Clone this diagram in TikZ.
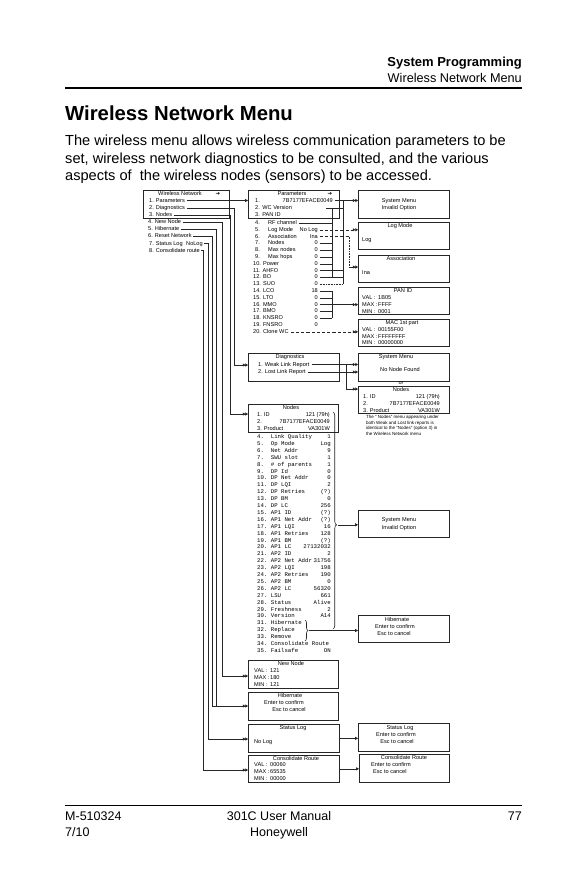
\documentclass[tikz,border=0pt]{standalone}
\usepackage{fontspec}
\setmainfont{Liberation Sans}
\setmonofont{Liberation Mono}
\newfontfamily\symf{DejaVu Sans}
\usetikzlibrary{arrows.meta,decorations.pathreplacing}
\newcommand{\mybox}[5]{\node[box, anchor=north west, minimum width=#4pt, minimum height=#5pt, inner sep=0] (#1) at (#2,#3) {};}
\newcommand{\lbl}[1]{\makebox[16pt][l]{#1}}
\begin{document}
\begin{tikzpicture}[x=1pt,y=-1pt,
  box/.style={draw=black!85, line width=0.7pt},
  conn/.style={draw=black!85, line width=0.6pt},
  dbl/.style={-{Triangle[length=2.6pt,width=3pt]Triangle[length=2.6pt,width=3pt]}},
  sgl/.style={-{Triangle[length=2.8pt,width=3pt]}},
  dsh/.style={dash pattern=on 3.2pt off 2pt},
  t/.style={inner sep=0, font=\fontsize{5.6}{6}\selectfont, text height=4.1pt, text depth=1.1pt},
  tm/.style={inner sep=0, font=\ttfamily\fontsize{5.7}{6}\selectfont, text height=4.1pt, text depth=1.1pt},
  tn/.style={inner sep=0, font=\fontsize{4.5}{5}\selectfont, anchor=west, text height=3.3pt, text depth=0.9pt},
  para/.style={anchor=base west, inner sep=0, font=\fontsize{14.6}{17}\selectfont},
  foot/.style={inner sep=0, font=\fontsize{12.5}{15}\selectfont},
]
\useasboundingbox (0,0) rectangle (577,892);
\fill[white] (0,0) rectangle (577,892);

% ---------- header ----------
\node[anchor=base east, inner sep=0, font=\bfseries\fontsize{13}{15}\selectfont] (hd1) at (522,66) {System Programming};
\node[anchor=base east, inner sep=0, font=\fontsize{12.7}{15}\selectfont] (hd2) at (522,82) {Wireless Network Menu};
\draw[line width=2pt] (65,88) -- (522,88);
\node[anchor=base west, inner sep=0, font=\bfseries\fontsize{20.3}{24}\selectfont] (ttl) at (65,120) {Wireless Network Menu};
\node[para] (pa1) at (65,145) {The wireless menu allows wireless communication parameters to be};
\node[para] (pa2) at (65,163) {set, wireless network diagnostics to be consulted, and the various};
\node[para] (pa3) at (65,180.5) {aspects of\ \ the wireless nodes (sensors) to be accessed.};

% ---------- footer ----------
\draw[line width=1pt] (65,805.5) -- (522,805.5);
\node[foot, anchor=base west] (f1) at (65,820) {M-510324};
\node[foot, anchor=base west] (f2) at (65,836) {7/10};
\node[foot, anchor=base] (f3) at (279,820) {301C User Manual};
\node[foot, anchor=base] (f4) at (279,836) {Honeywell};
\node[foot, anchor=base east] (f5) at (522,820) {77};

% ---------- boxes ----------
\mybox{wn}{143}{189.5}{86}{28}
\mybox{par}{248}{189.5}{91}{28}
\mybox{smA}{358}{189.5}{91}{28}
\mybox{logm}{358}{222}{91}{27}
\mybox{assoc}{358}{255}{91}{27}
\mybox{pan}{358}{287}{91}{27}
\mybox{mac}{358}{319}{91}{27}
\mybox{diag}{248}{353}{91}{28}
\mybox{smB}{358}{353}{91}{28}
\mybox{nds}{358}{386}{91}{27}
\mybox{ndb}{248}{404}{90}{28}
\mybox{smC}{358}{510}{91}{27}
\mybox{hibR}{358}{615}{91}{27}
\mybox{newn}{248}{660}{90}{28}
\mybox{hib}{248}{692}{90}{28}
\mybox{slog}{248}{724}{91}{28}
\mybox{slogR}{358}{723}{91}{28}
\mybox{cons}{248}{755}{91}{27}
\mybox{consR}{359}{754}{90}{28}

% ---------- Wireless Network menu ----------
\node[t] (wnt) at (180,194) {Wireless Network};
\node[inner sep=0, font=\symf\bfseries\fontsize{5.5}{6}\selectfont] (wna) at (218,194) {➔};
\node[t,anchor=west] (wn1) at (149,200.5) {1. Parameters};
\node[t,anchor=west] (wn2) at (149,207.8) {2. Diagnostics};
\node[t,anchor=west] (wn3) at (149,215) {3. Nodes};
\node[t,anchor=west] (wn4) at (148,222.2) {4. New Node};
\node[t,anchor=west] (wn5) at (148,229.3) {5. Hibernate};
\node[t,anchor=west] (wn6) at (148,236.4) {6. Reset Network};
\node[t,anchor=west] (wn7) at (149,243.5) {7. Status Log\hspace{3.5pt}NoLog};
\node[t,anchor=west] (wn8) at (149,250.6) {8. Consolidate route};

\coordinate (kD) at (234,365);
\coordinate (kN) at (230,414);
\coordinate (kNN) at (222,676);
\coordinate (kH) at (216,706);
\coordinate (kR) at (212,706);
\coordinate (kS) at (208,739);
\coordinate (kC) at (203,770);
\draw[conn,sgl] ([xshift=1.5pt]wn1.east) -- (par.west |- wn1);
\draw[conn,dbl] ([xshift=1.5pt]wn2.east) -| (kD) -- (diag.west |- kD);
\draw[conn,dbl] ([xshift=1.5pt]wn3.east) -| (kN) -- (ndb.west |- kN);
\draw[conn,dbl] ([xshift=1.5pt]wn4.east) -| (kNN) -- (newn.west |- kNN);
\draw[conn] ([xshift=1.5pt]wn5.east) -| (kH);
\draw[conn] ([xshift=1.5pt]wn6.east) -| (kR);
\draw[conn,dbl] (kR) -- (hib.west |- kR);
\draw[conn,dbl] ([xshift=1pt]wn7.east) -| (kS) -- (slog.west |- kS);
\draw[conn,dbl] ([xshift=1pt]wn8.east) -| (kC) -- (cons.west |- kC);

% ---------- Parameters ----------
\node[t] (part) at (292,194) {Parameters};
\node[inner sep=0, font=\symf\bfseries\fontsize{5.5}{6}\selectfont] (para) at (330,194) {➔};
\node[t,anchor=west] (p1) at (255,200.5) {1.};
\node[t,anchor=east] (pv1) at (333,200.5) {7B7177EFACE0049};
\node[t,anchor=west] (p2) at (255,207.8) {2.\hspace{2.5pt}WC Version};
\node[t,anchor=west] (p3) at (255,215) {3.\hspace{2.5pt}PAN ID};
\foreach \k/\lab/\val in {4/RF channel/, 5/Log Mode/No Log, 6/Association/Ina, 7/Nodes/0, 8/Max nodes/0, 9/Max hops/0}{
  \node[t,anchor=west] (p\k) at (255,{223+(\k-4)*6.8}) {\k.};
  \node[t,anchor=west] (pl\k) at (268,{223+(\k-4)*6.8}) {\lab};
  \node[t,anchor=east] (pv\k) at (318,{223+(\k-4)*6.8}) {\val};
}
\foreach \k/\lab/\val in {10/Power/0, 11/AHFO/0, 12/BO/0, 13/SUO/0, 14/LCO/18, 15/LTO/0, 16/MMO/0, 17/BMO/0, 18/KNSRO/0, 19/FNSRO/0, 20/Clone WC/}{
  \node[t,anchor=west] (pl\k) at (253,{223+(\k-4)*6.8}) {\k. \lab};
  \node[t,anchor=east] (pv\k) at (318,{223+(\k-4)*6.8}) {\val};
}
% connectors of parameters
\coordinate (cA1) at (343,200.5);
\coordinate (cA2) at (343,{223+9*6.8});
\coordinate (s2) at (326,207.8);
\coordinate (cB1) at (332,207.8);
\coordinate (cB2) at (332,{223+8*6.8});
\coordinate (cC1) at (332,{223+10*6.8});
\coordinate (cC2) at (332,{223+14*6.8});
\draw[conn,dbl] ([xshift=1.5pt]pv1.east) -- (smA.west |- pv1);
\draw[conn] (cA1) -- (cA2);
\draw[conn] (s2) -- (s2 -| cA1);
\draw[conn] (cB1) -- (cB2);
\draw[conn] ([xshift=1.5pt]pl4.east) -- (pl4 -| cB1);
\foreach \k in {7,8,9,10}{ \draw[conn] ([xshift=1.5pt]pv\k.east) -- (pv\k -| cB1); }
\foreach \k in {11,12}{ \draw[conn] ([xshift=1.5pt]pv\k.east) -- (pv\k -| cA1); }
\draw[conn,densely dotted] ([xshift=1.5pt]pv13.east) -- (pv13 -| cA1);
\draw[conn] (cC1) -- (cC2);
\foreach \k in {14,15,17,18}{ \draw[conn] ([xshift=1.5pt]pv\k.east) -- (pv\k -| cC1); }
\draw[conn,dbl] ([xshift=1.5pt]pv16.east) -- (pan.west |- pv16);
\draw[conn,dsh,dbl] ([xshift=1.5pt]pv5.east) -- (logm.west |- pv5);
\coordinate (kA1) at (349,{223+2*6.8});
\coordinate (kA2) at (349,267);
\draw[conn,dsh] ([xshift=1.5pt]pv6.east) -- (kA1);
\draw[conn,densely dotted] (kA1) -- (kA2);
\draw[conn,dbl] (kA2) -- (assoc.west |- kA2);
\draw[conn,dsh,dbl] ([xshift=2pt]pl20.east) -- (mac.west |- pl20);

% ---------- right column boxes ----------
\node[t] (smA1) at (399,200.5) {System Menu};
\node[t] (smA2) at (399,208) {Invalid Option};
\node[t] (lmt) at (400,226) {Log Mode};
\node[t,anchor=west] (lmv) at (362,240) {Log};
\node[t] (ast) at (401,259) {Association};
\node[t,anchor=west] (asv) at (362,272.5) {Ina};
\node[t] (pant) at (403,290.5) {PAN ID};
\node[t,anchor=west] (pan1) at (362,297.5) {\lbl{VAL :}1B05};
\node[t,anchor=west] (pan2) at (362,304.5) {\lbl{MAX :}FFFF};
\node[t,anchor=west] (pan3) at (362,311.5) {\lbl{MIN :}0001};
\node[t] (mact) at (402,322.5) {MAC 1st part};
\node[t,anchor=west] (mac1) at (362,329.5) {\lbl{VAL :}00155F00};
\node[t,anchor=west] (mac2) at (362,336.5) {\lbl{MAX :}FFFFFFFF};
\node[t,anchor=west] (mac3) at (362,343.2) {\lbl{MIN :}00000000};

% ---------- Diagnostics ----------
\node[t] (dgt) at (290,357) {Diagnostics};
\node[t,anchor=west] (dg1) at (258,364.5) {1. Weak Link Report};
\node[t,anchor=west] (dg2) at (258,372) {2. Lost Link Report};
\node[t] (smB1) at (396,357) {System Menu};
\node[t] (smB2) at (400,370) {No Node Found};
\node[t] (orr) at (401,383.3) {or};
\draw[conn,dbl] ([xshift=2pt]dg1.east) -- (smB.west |- dg1);
\draw[conn,dbl] ([xshift=2pt]dg2.east) -- (smB.west |- dg2);
\coordinate (kW) at (346,364.5);
\coordinate (kW2) at (346,389);
\draw[conn,dbl] (kW) -- (kW2) -- (nds.west |- kW2);
\node[t] (ndst) at (401,389.5) {Nodes};
\node[t,anchor=west] (nds1) at (363,396.5) {1. ID};
\node[t,anchor=east] (nds1v) at (440,396.5) {121 (79h)};
\node[t,anchor=west] (nds2) at (363,403.5) {2.};
\node[t,anchor=east] (nds2v) at (440,403.5) {7B7177EFACE0049};
\node[t,anchor=west] (nds3) at (363,410.5) {3. Product};
\node[t,anchor=east] (nds3v) at (440,410.5) {VA301W};
\node[tn] (nt1) at (366,417.3) {The `` Nodes'' menu appearing under};
\node[tn] (nt2) at (366,423) {both Weak and Lost link reports is};
\node[tn] (nt3) at (366,428.7) {identical to the ``Nodes'' (option 3) in};
\node[tn] (nt4) at (366,434.4) {the Wireless Network menu};

% ---------- Nodes big ----------
\node[t] (ndbt) at (291,407.5) {Nodes};
\node[t,anchor=west] (nb1) at (257,414.5) {1. ID};
\node[t,anchor=east] (nb1v) at (330,414.5) {121 (79h)};
\node[t,anchor=west] (nb2) at (257,421.5) {2.};
\node[t,anchor=east] (nb2v) at (330,421.5) {7B7177EFACE0049};
\node[t,anchor=west] (nb3) at (257,428.5) {3. Product};
\node[t,anchor=east] (nb3v) at (330,428.5) {VA301W};
\foreach \k/\lab/\val in {4/Link Quality/1, 5/Op Mode/Log, 6/Net Addr/9, 7/SWU slot/1, 8/\# of parents/1,
  9/DP Id/0, 10/DP Net Addr/0, 11/DP LQI/2, 12/DP Retries/(?), 13/DP BM/0, 14/DP LC/256,
  15/AP1 ID/(?), 16/AP1 Net Addr/(?), 17/AP1 LQI/16, 18/AP1 Retries/128, 19/AP1 BM/(?),
  20/AP1 LC/27132032, 21/AP2 ID/2, 22/AP2 Net Addr/31756, 23/AP2 LQI/198, 24/AP2 Retries/190,
  25/AP2 BM/0, 26/AP2 LC/56320, 27/LSU/661, 28/Status/Alive, 29/Freshness/2, 30/Version/A14,
  31/Hibernate/, 32/Replace/, 33/Remove/, 34/Consolidate Route/, 35/Failsafe/ON}{
  \node[tm,anchor=west] (nl\k) at (257,{437+(\k-4)*6.9}) {\makebox[13.7pt][l]{\k.}\lab};
  \node[tm,anchor=east] (nv\k) at (331,{437+(\k-4)*6.9}) {\val};
}
\draw[conn, decorate, decoration={brace, amplitude=3.5pt, aspect=0.52}] (333,412) -- (333,629);
\coordinate (bt) at (337.5,524.8);
\draw[conn,sgl] (bt) -- (smC.west |- bt);
\node[t] (smC1) at (399,520) {System Menu};
\node[t] (smC2) at (399,528) {Invalid Option};

\draw[conn, decorate, decoration={brace, amplitude=3pt, aspect=0.5}] (305,620) -- (305,641);
\coordinate (bs) at (309,630.5);
\draw[conn,sgl] (bs) -- (hibR.west |- bs);
\node[t] (hr1) at (397,619.5) {Hibernate};
\node[t] (hr2) at (395,626.5) {Enter to confirm};
\node[t] (hr3) at (394,633.5) {Esc to cancel};

% ---------- bottom boxes ----------
\node[t] (nnt) at (291,664) {New Node};
\node[t,anchor=west] (nn1) at (254,671) {\lbl{VAL :}121};
\node[t,anchor=west] (nn2) at (254,678) {\lbl{MAX :}180};
\node[t,anchor=west] (nn3) at (254,685) {\lbl{MIN :}121};

\node[t] (hbt) at (290,696) {Hibernate};
\node[t] (hb2) at (284,703) {Enter to confirm};
\node[t] (hb3) at (289,710) {Esc to cancel};

\node[t] (slt) at (293,728) {Status Log};
\node[t,anchor=west] (slv) at (254,742) {No Log};
\node[t] (slr1) at (400,728) {Status Log};
\node[t] (slr2) at (396,735) {Enter to confirm};
\node[t] (slr3) at (397,742) {Esc to cancel};
\draw[conn,sgl] (slog.east) -- (slogR.west |- slog.east);

\node[t] (cst) at (296,758.5) {Consolidate Route};
\node[t,anchor=west] (cs1) at (254,765) {\lbl{VAL :}00060};
\node[t,anchor=west] (cs2) at (254,772) {\lbl{MAX :}65535};
\node[t,anchor=west] (cs3) at (254,779) {\lbl{MIN :}00000};
\node[t] (csr1) at (404,758) {Consolidate Route};
\node[t,anchor=west] (csr2) at (371,765) {Enter to confirm};
\node[t,anchor=west] (csr3) at (373,772) {Esc to cancel};
\draw[conn,sgl] (cons.east) -- (consR.west |- cons.east);
\end{tikzpicture}
\end{document}
